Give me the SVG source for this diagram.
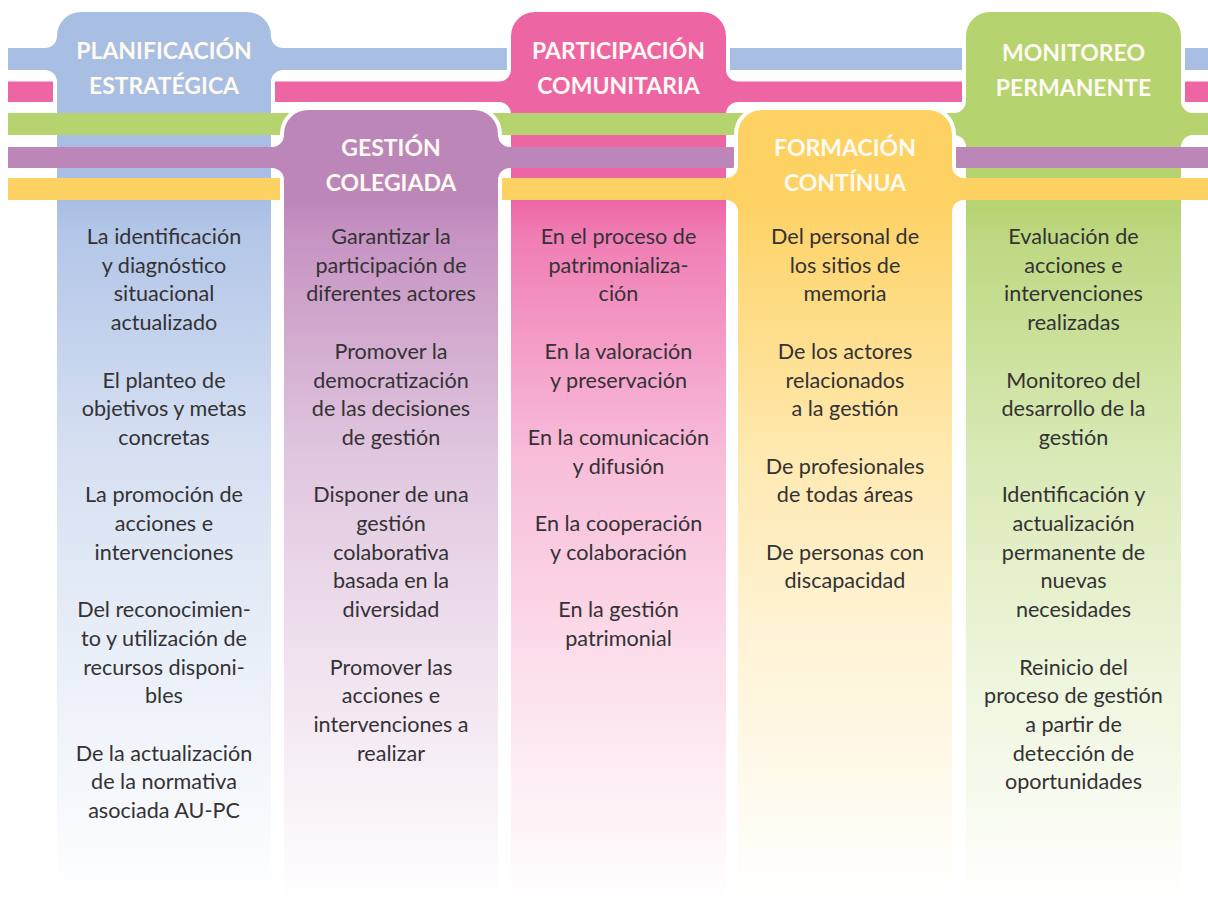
<svg xmlns="http://www.w3.org/2000/svg" width="1208" height="904" viewBox="0 0 1208 904">
<defs>
<linearGradient id="gBlue" gradientUnits="userSpaceOnUse" x1="0" y1="200" x2="0" y2="904">
<stop offset="0" stop-color="#a8bee3"/><stop offset="0.05" stop-color="#b4c7e8"/><stop offset="0.36" stop-color="#d6e0f2"/><stop offset="0.64" stop-color="#e9eff8"/><stop offset="1" stop-color="#ffffff"/>
</linearGradient>
<linearGradient id="gPurple" gradientUnits="userSpaceOnUse" x1="0" y1="200" x2="0" y2="904">
<stop offset="0" stop-color="#bd86b9"/><stop offset="0.05" stop-color="#c693c3"/><stop offset="0.36" stop-color="#e0c6de"/><stop offset="0.64" stop-color="#efe1ee"/><stop offset="1" stop-color="#ffffff"/>
</linearGradient>
<linearGradient id="gPink" gradientUnits="userSpaceOnUse" x1="0" y1="200" x2="0" y2="904">
<stop offset="0" stop-color="#ee65a4"/><stop offset="0.05" stop-color="#f07db4"/><stop offset="0.36" stop-color="#f8bcd9"/><stop offset="0.64" stop-color="#fcdcea"/><stop offset="1" stop-color="#ffffff"/>
</linearGradient>
<linearGradient id="gYellow" gradientUnits="userSpaceOnUse" x1="0" y1="200" x2="0" y2="904">
<stop offset="0" stop-color="#fed163"/><stop offset="0.05" stop-color="#fed56f"/><stop offset="0.36" stop-color="#ffe9b0"/><stop offset="0.64" stop-color="#fff4d8"/><stop offset="1" stop-color="#ffffff"/>
</linearGradient>
<linearGradient id="gGreen" gradientUnits="userSpaceOnUse" x1="0" y1="200" x2="0" y2="904">
<stop offset="0" stop-color="#b5d36f"/><stop offset="0.05" stop-color="#bdd881"/><stop offset="0.36" stop-color="#d9e9b5"/><stop offset="0.64" stop-color="#ecf4d8"/><stop offset="1" stop-color="#ffffff"/>
</linearGradient>
<style>
.halo{fill:none;stroke:#ffffff;stroke-width:8;stroke-linejoin:round}
.hd{font-family:Lato,"Liberation Sans",sans-serif;font-weight:bold;font-size:23px;fill:#fffaf2;text-anchor:middle}
.tx{font-family:Lato,"Liberation Sans",sans-serif;font-size:21.6px;fill:#343234;text-anchor:middle}
</style>
</defs>
<rect width="1208" height="904" fill="#ffffff"/>

<g id="bodies">
<rect x="57" y="36" width="214" height="868" fill="url(#gBlue)"/>
<rect x="284" y="134" width="214" height="770" fill="url(#gPurple)"/>
<rect x="511" y="36" width="215" height="868" fill="url(#gPink)"/>
<rect x="738" y="134" width="214" height="770" fill="url(#gYellow)"/>
<rect x="966" y="36" width="215" height="868" fill="url(#gGreen)"/>
</g>

<g id="connectors-upper">
<rect x="8" y="48" width="1200" height="22" fill="#a8bee3"/>
<rect x="8" y="81.5" width="1200" height="20.5" fill="#ee65a4"/>
</g>

<g id="node-planificacion">
<path class="halo" d="M57 120 V82 A12 12 0 0 0 45 70 M45 48 A12 12 0 0 0 57 36 A24 24 0 0 1 81 12 H247 A24 24 0 0 1 271 36 A12 12 0 0 0 283 48 M283 70 A12 12 0 0 0 271 82 V120"/>
<path fill="url(#gBlue)" d="M57 120 V82 A12 12 0 0 0 45 70 V48 A12 12 0 0 0 57 36 A24 24 0 0 1 81 12 H247 A24 24 0 0 1 271 36 A12 12 0 0 0 283 48 V70 A12 12 0 0 0 271 82 V120 Z"/>
<text class="hd" x="164" y="59">PLANIFICACIÓN</text>
<text class="hd" x="164" y="94">ESTRATÉGICA</text>
</g>

<g id="node-participacion">
<path class="halo" d="M511 120 V114 A12 12 0 0 0 499 102 M499 81.5 A12 12 0 0 0 511 69.5 V36 A24 24 0 0 1 535 12 H702 A24 24 0 0 1 726 36 V69.5 A12 12 0 0 0 738 81.5 M738 102 A12 12 0 0 0 726 114 V120"/>
<path fill="url(#gPink)" d="M511 120 V114 A12 12 0 0 0 499 102 V81.5 A12 12 0 0 0 511 69.5 V36 A24 24 0 0 1 535 12 H702 A24 24 0 0 1 726 36 V69.5 A12 12 0 0 0 738 81.5 V102 A12 12 0 0 0 726 114 V120 Z"/>
<text class="hd" x="618.5" y="59">PARTICIPACIÓN</text>
<text class="hd" x="618.5" y="94">COMUNITARIA</text>
</g>

<g id="node-monitoreo">
<path class="halo" d="M966 155 V147 A12 12 0 0 0 954 135 M954 113 A12 12 0 0 0 966 101 V36 A24 24 0 0 1 990 12 H1157 A24 24 0 0 1 1181 36 V101 A12 12 0 0 0 1193 113 M1193 135 A12 12 0 0 0 1181 147 V155"/>
<path fill="url(#gGreen)" d="M966 155 V147 A12 12 0 0 0 954 135 V113 A12 12 0 0 0 966 101 V36 A24 24 0 0 1 990 12 H1157 A24 24 0 0 1 1181 36 V101 A12 12 0 0 0 1193 113 V135 A12 12 0 0 0 1181 147 V155 Z"/>
<text class="hd" x="1073.5" y="61">MONITOREO</text>
<text class="hd" x="1073.5" y="96">PERMANENTE</text>
</g>

<g id="connectors-lower">
<rect x="8" y="113" width="1200" height="22" fill="#b5d36f"/>
<rect x="8" y="147" width="1200" height="21" fill="#bd86b9"/>
<rect x="8" y="178" width="1200" height="22" fill="#fed163"/>
</g>

<g id="node-gestion">
<path class="halo" d="M284 216 V180 A12 12 0 0 0 272 168 M272 147 A12 12 0 0 0 284 135 V134 A24 24 0 0 1 308 110 H474 A24 24 0 0 1 498 134 V135 A12 12 0 0 0 510 147 M510 168 A12 12 0 0 0 498 180 V216"/>
<path fill="url(#gPurple)" d="M284 216 V180 A12 12 0 0 0 272 168 V147 A12 12 0 0 0 284 135 V134 A24 24 0 0 1 308 110 H474 A24 24 0 0 1 498 134 V135 A12 12 0 0 0 510 147 V168 A12 12 0 0 0 498 180 V216 Z"/>
<text class="hd" x="391" y="156">GESTIÓN</text>
<text class="hd" x="391" y="191">COLEGIADA</text>
</g>

<g id="node-formacion">
<path class="halo" d="M738 216 V212 A12 12 0 0 0 726 200 M726 178 A12 12 0 0 0 738 166 V134 A24 24 0 0 1 762 110 H928 A24 24 0 0 1 952 134 V166 A12 12 0 0 0 964 178 M964 200 A12 12 0 0 0 952 212 V216"/>
<path fill="url(#gYellow)" d="M738 216 V212 A12 12 0 0 0 726 200 V178 A12 12 0 0 0 738 166 V134 A24 24 0 0 1 762 110 H928 A24 24 0 0 1 952 134 V166 A12 12 0 0 0 964 178 V200 A12 12 0 0 0 952 212 V216 Z"/>
<text class="hd" x="845" y="156">FORMACIÓN</text>
<text class="hd" x="845" y="191">CONTÍNUA</text>
</g>

<g id="text-planificacion">
<text class="tx" x="164" y="244">La identificación</text>
<text class="tx" x="164" y="272.7">y diagnóstico</text>
<text class="tx" x="164" y="301.4">situacional</text>
<text class="tx" x="164" y="330.1">actualizado</text>
<text class="tx" x="164" y="387.5">El planteo de</text>
<text class="tx" x="164" y="416.2">objetivos y metas</text>
<text class="tx" x="164" y="444.9">concretas</text>
<text class="tx" x="164" y="502.3">La promoción de</text>
<text class="tx" x="164" y="531">acciones e</text>
<text class="tx" x="164" y="559.7">intervenciones</text>
<text class="tx" x="164" y="617.1">Del reconocimien-</text>
<text class="tx" x="164" y="645.8">to y utilización de</text>
<text class="tx" x="164" y="674.5">recursos disponi-</text>
<text class="tx" x="164" y="703.2">bles</text>
<text class="tx" x="164" y="760.6">De la actualización</text>
<text class="tx" x="164" y="789.3">de la normativa</text>
<text class="tx" x="164" y="818">asociada AU-PC</text>
</g>

<g id="text-gestion">
<text class="tx" x="391" y="244">Garantizar la</text>
<text class="tx" x="391" y="272.7">participación de</text>
<text class="tx" x="391" y="301.4">diferentes actores</text>
<text class="tx" x="391" y="358.8">Promover la</text>
<text class="tx" x="391" y="387.5">democratización</text>
<text class="tx" x="391" y="416.2">de las decisiones</text>
<text class="tx" x="391" y="444.9">de gestión</text>
<text class="tx" x="391" y="502.3">Disponer de una</text>
<text class="tx" x="391" y="531">gestión</text>
<text class="tx" x="391" y="559.7">colaborativa</text>
<text class="tx" x="391" y="588.4">basada en la</text>
<text class="tx" x="391" y="617.1">diversidad</text>
<text class="tx" x="391" y="674.5">Promover las</text>
<text class="tx" x="391" y="703.2">acciones e</text>
<text class="tx" x="391" y="731.9">intervenciones a</text>
<text class="tx" x="391" y="760.6">realizar</text>
</g>

<g id="text-participacion">
<text class="tx" x="618.5" y="244">En el proceso de</text>
<text class="tx" x="618.5" y="272.7">patrimonializa-</text>
<text class="tx" x="618.5" y="301.4">ción</text>
<text class="tx" x="618.5" y="358.8">En la valoración</text>
<text class="tx" x="618.5" y="387.5">y preservación</text>
<text class="tx" x="618.5" y="444.9">En la comunicación</text>
<text class="tx" x="618.5" y="473.6">y difusión</text>
<text class="tx" x="618.5" y="531">En la cooperación</text>
<text class="tx" x="618.5" y="559.7">y colaboración</text>
<text class="tx" x="618.5" y="617.1">En la gestión</text>
<text class="tx" x="618.5" y="645.8">patrimonial</text>
</g>

<g id="text-formacion">
<text class="tx" x="845" y="244">Del personal de</text>
<text class="tx" x="845" y="272.7">los sitios de</text>
<text class="tx" x="845" y="301.4">memoria</text>
<text class="tx" x="845" y="358.8">De los actores</text>
<text class="tx" x="845" y="387.5">relacionados</text>
<text class="tx" x="845" y="416.2">a la gestión</text>
<text class="tx" x="845" y="473.6">De profesionales</text>
<text class="tx" x="845" y="502.3">de todas áreas</text>
<text class="tx" x="845" y="559.7">De personas con</text>
<text class="tx" x="845" y="588.4">discapacidad</text>
</g>

<g id="text-monitoreo">
<text class="tx" x="1073.5" y="244">Evaluación de</text>
<text class="tx" x="1073.5" y="272.7">acciones e</text>
<text class="tx" x="1073.5" y="301.4">intervenciones</text>
<text class="tx" x="1073.5" y="330.1">realizadas</text>
<text class="tx" x="1073.5" y="387.5">Monitoreo del</text>
<text class="tx" x="1073.5" y="416.2">desarrollo de la</text>
<text class="tx" x="1073.5" y="444.9">gestión</text>
<text class="tx" x="1073.5" y="502.3">Identificación y</text>
<text class="tx" x="1073.5" y="531">actualización</text>
<text class="tx" x="1073.5" y="559.7">permanente de</text>
<text class="tx" x="1073.5" y="588.4">nuevas</text>
<text class="tx" x="1073.5" y="617.1">necesidades</text>
<text class="tx" x="1073.5" y="674.5">Reinicio del</text>
<text class="tx" x="1073.5" y="703.2">proceso de gestión</text>
<text class="tx" x="1073.5" y="731.9">a partir de</text>
<text class="tx" x="1073.5" y="760.6">detección de</text>
<text class="tx" x="1073.5" y="789.3">oportunidades</text>
</g>
</svg>
